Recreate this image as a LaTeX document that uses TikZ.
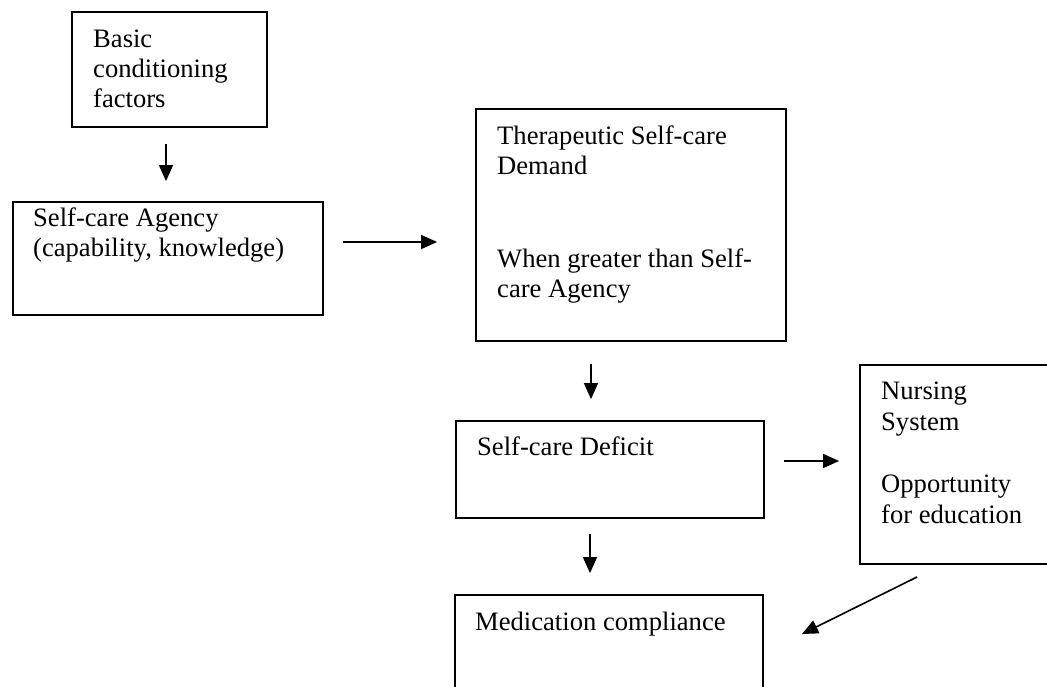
\documentclass[tikz,border=0pt]{standalone}
\usepackage{fontspec}
\setmainfont{Liberation Serif}
\usetikzlibrary{fit,arrows.meta}
\begin{document}
\begin{tikzpicture}[x=1pt,y=-1pt,
  box/.style={draw, line width=1.8pt, inner sep=0pt},
  lbl/.style={anchor=base west, inner sep=0pt, font=\fontsize{26.6}{30}\selectfont},
  arr/.style={line width=1.6pt, -{Triangle[length=16pt,width=14pt]}}]
\useasboundingbox (0,0) rectangle (1047,687);
% boxes
\node[box, fit={(72,12) (267,127)}] (basic) {};
\node[box, fit={(13,202) (323,315)}] (agency) {};
\node[box, fit={(476,109) (786,341)}] (ther) {};
\node[box, fit={(456,421) (764,518)}] (def) {};
\node[box, fit={(860,365) (1070,564)}] (nurs) {};
\node[box, fit={(455,595) (763,710)}] (med) {};
% texts
\node[lbl] (basic1) at (93,48) {Basic};
\node[lbl] (basic2) at (93,78) {conditioning};
\node[lbl] (basic3) at (93,108) {factors};
\node[lbl] (agency1) at (33,227) {Self-care Agency};
\node[lbl] (agency2) at (33,256) {(capability, knowledge)};
\node[lbl] (ther1) at (497,145) {Therapeutic Self-care};
\node[lbl] (ther2) at (497,175) {Demand};
\node[lbl] (ther3) at (497,267) {When greater than Self-};
\node[lbl] (ther4) at (497,297) {care Agency};
\node[lbl] (def1) at (477,455) {Self-care Deficit};
\node[lbl] (nurs1) at (881,399) {Nursing};
\node[lbl] (nurs2) at (881,430) {System};
\node[lbl] (nurs3) at (881,492) {Opportunity};
\node[lbl] (nurs4) at (881,523) {for education};
\node[lbl] (med1) at (475,630) {Medication compliance};
% connectors
\draw[arr, shorten <=16pt, shorten >=20pt] (basic.south -| 166,0) -- (agency.north -| 166,0);
\draw[arr, shorten <=19pt, shorten >=38pt] (agency.east |- 0,242) -- (ther.west |- 0,242);
\draw[arr, shorten <=22pt, shorten >=21pt] (ther.south -| 591,0) -- (def.north -| 591,0);
\draw[arr, shorten <=19pt, shorten >=20pt] (def.east |- 0,461) -- (nurs.west |- 0,461);
\draw[arr, shorten <=15pt, shorten >=21pt] (def.south -| 590,0) -- (med.north -| 590,0);
\coordinate (n2m) at (917,577);
\coordinate (m2n) at (802,634);
\draw[arr] (n2m) -- (m2n);
\end{tikzpicture}
\end{document}
